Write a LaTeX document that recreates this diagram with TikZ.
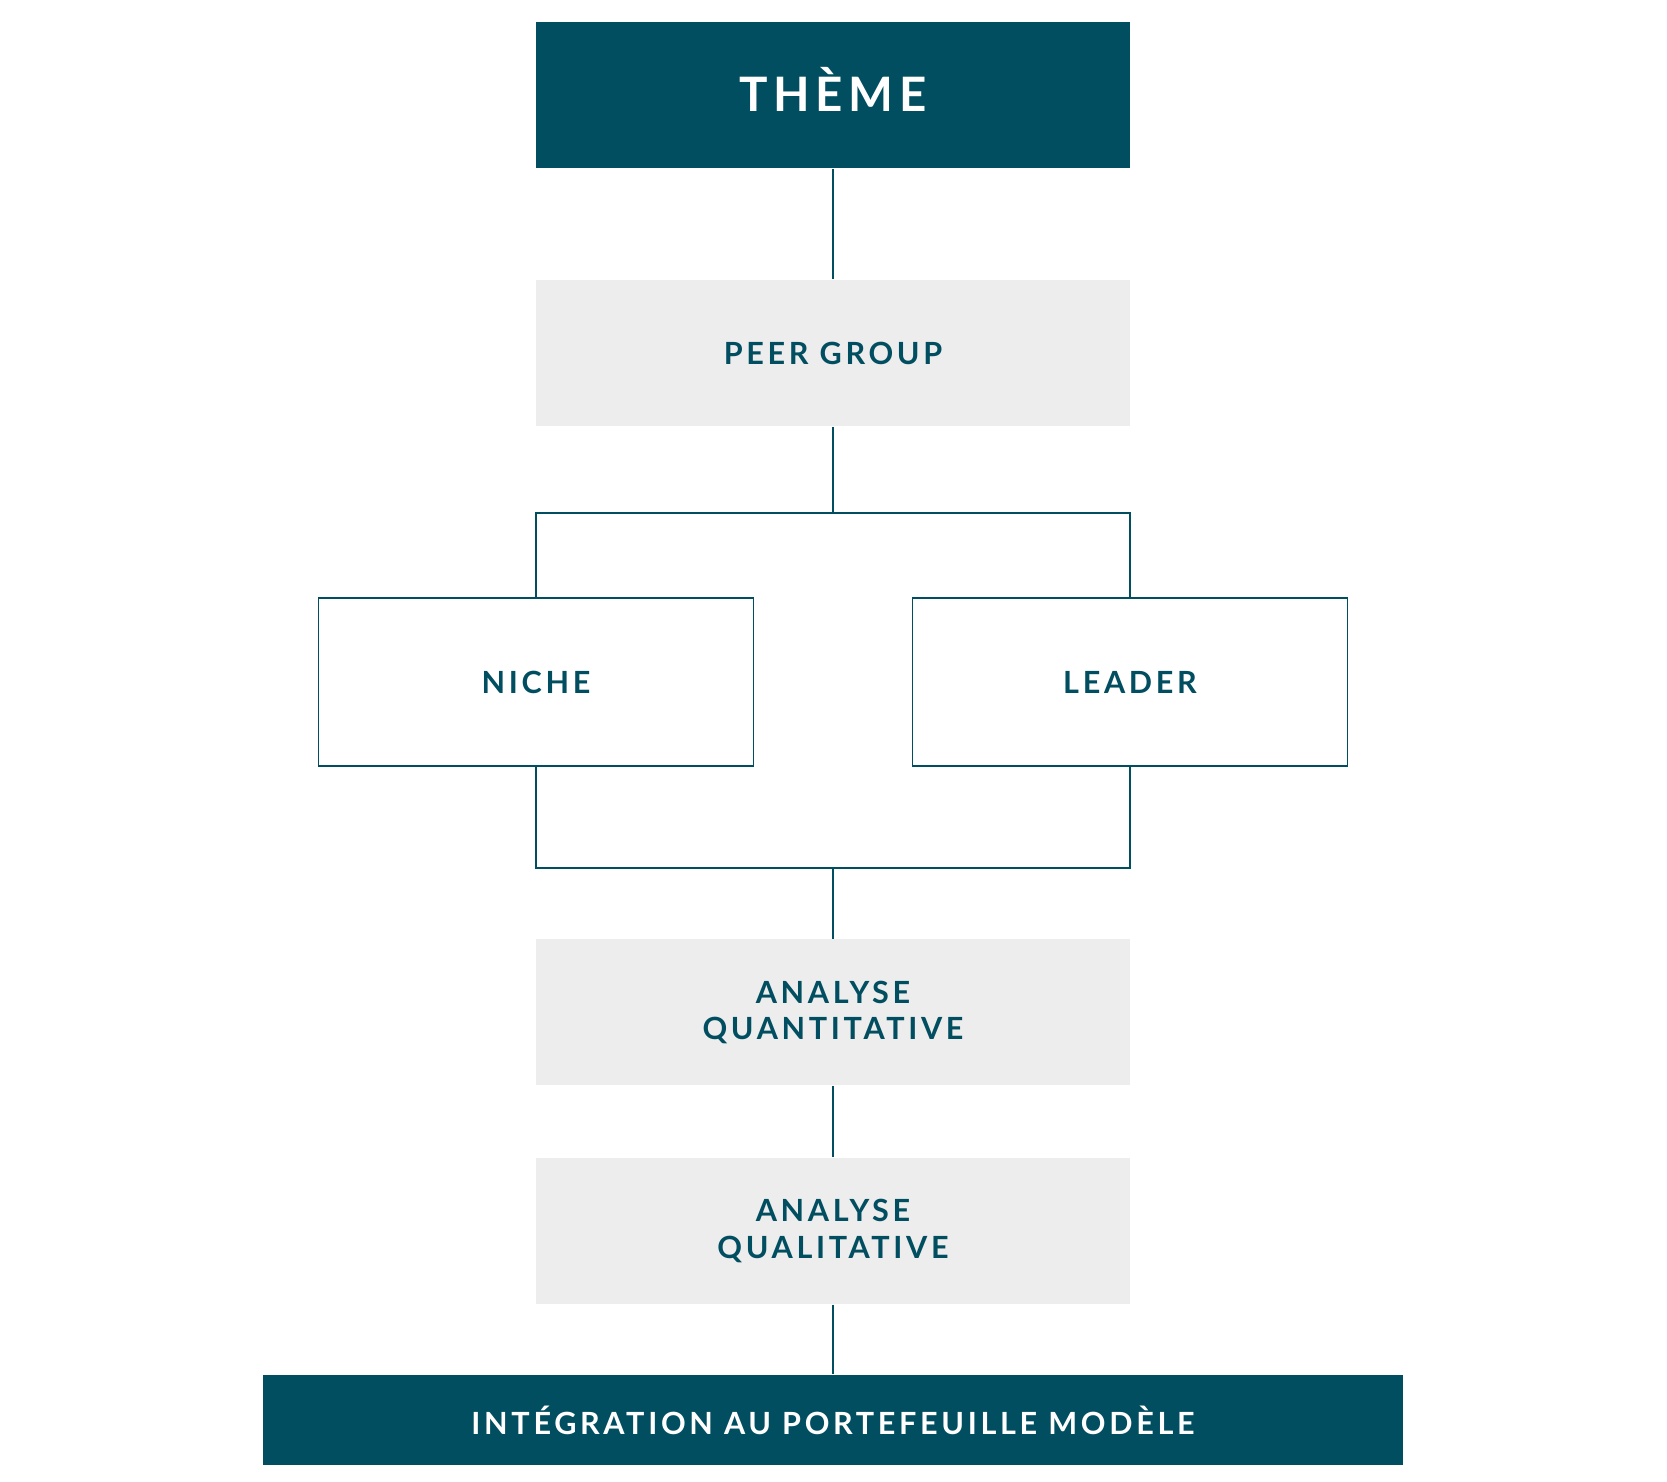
\documentclass[tikz,border=0pt]{standalone}
\usepackage{fontspec}
\setmainfont{Lato}[LetterSpace=12]
\definecolor{petrol}{HTML}{024E61}
\definecolor{mist}{HTML}{EDEDED}
\tikzset{
  base/.style={inner sep=0pt, align=center, font=\bfseries\fontsize{8.7}{10.5}\selectfont},
  dark/.style={base, fill=petrol, text=white},
  pale/.style={base, fill=mist, text=petrol},
  frame/.style={base, draw=petrol, line width=0.4pt, fill=white, text=petrol},
  link/.style={draw=petrol, line width=0.4pt},
}
\begin{document}
\begin{tikzpicture}
\def\cx{8.33};
\def\bw{5.94};
\def\bh{1.46};
\def\sw{4.35};
\def\sh{1.68};
\useasboundingbox (0,0) rectangle (16.67,-14.82);
%boxes
\node[dark, minimum width=\bw cm, minimum height=\bh cm, text height=0.34cm, text depth=0pt,
  font=\bfseries\fontsize{13.5}{16}\selectfont] (theme) at (\cx,-0.95) {THÈME};
\node[pale, minimum width=\bw cm, minimum height=\bh cm] (peer) at (\cx,-3.53) {PEER GROUP};
\node[frame, minimum width=\sw cm, minimum height=\sh cm] (niche) at (\cx-2.97,-6.82) {NICHE};
\node[frame, minimum width=\sw cm, minimum height=\sh cm] (leader) at (\cx+2.97,-6.82) {LEADER};
\node[pale, minimum width=\bw cm, minimum height=\bh cm] (quant) at (\cx,-10.125) {ANALYSE\\QUANTITATIVE};
\node[pale, minimum width=\bw cm, minimum height=\bh cm] (qual) at (\cx,-12.31) {ANALYSE\\QUALITATIVE};
\node[dark, minimum width=11.40cm, minimum height=0.90cm] (integ) at (\cx,-14.20) {INTÉGRATION AU PORTEFEUILLE MODÈLE};
%split and merge
\coordinate (split) at (\cx,-5.13);
\coordinate (merge) at (\cx,-8.68);
\draw[link] (theme) -- (peer);
\draw[link] (peer) -- (split);
\draw[link] (niche.north) |- (split) -| (leader.north);
\draw[link] (niche.south) |- (merge) -| (leader.south);
\draw[link] (merge) -- (quant);
\draw[link] (quant) -- (qual);
\draw[link] (qual) -- (integ);
\end{tikzpicture}
\end{document}
